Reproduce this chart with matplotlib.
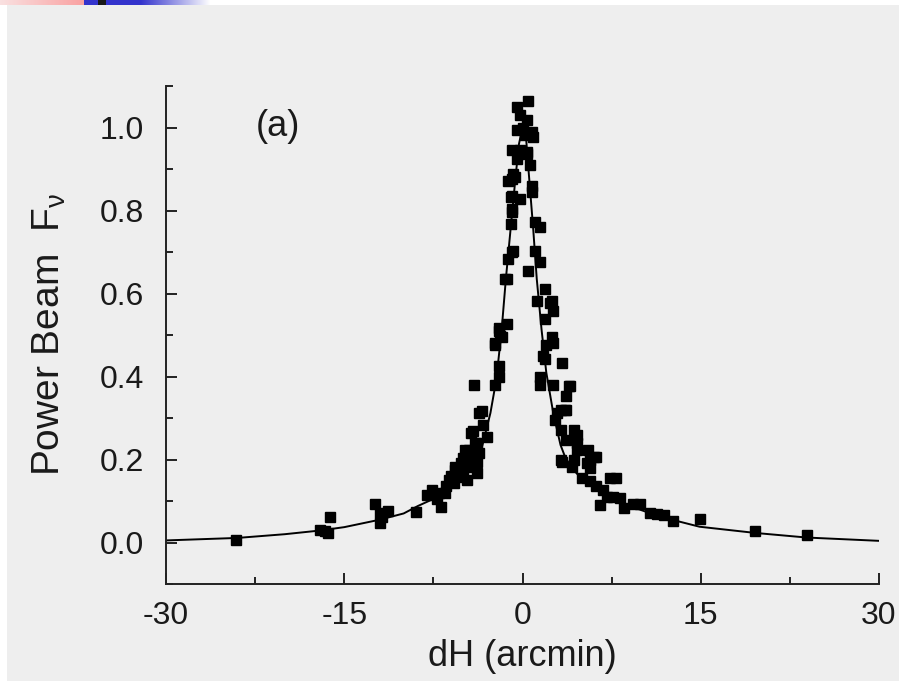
import numpy as np
import matplotlib.pyplot as plt

plt.rcParams['font.family'] = ['Liberation Sans', 'DejaVu Sans']
plt.rcParams['mathtext.fontset'] = 'custom'
plt.rcParams['mathtext.rm'] = 'Liberation Sans'
plt.rcParams['mathtext.it'] = 'Liberation Sans'

# measured beam points (dH in arcmin, normalised power)
dh_pts = [-24.1, -17.0, -16.4, -16.2, -16.6,
          -12.4, -12.0, -11.3, -12.0, -11.8, -9.0,
          -7.6, -7.2, -6.9, -6.4, -5.8, -5.7, -5.3, -4.7, -4.7, -4.3, -4.0, -3.8, -4.3, -3.8, -3.7,
          -5.7, -5.0, -4.5, -4.2, -3.3, -3.4, -3.0, -3.8, -3.7, -3.8, -4.8, -5.2, -6.0, -6.5, -7.0, -8.0,
          -6.2, -5.5, -5.0,
          -4.1, -2.3, -2.0, -2.0, -2.3, -1.7, -2.0, -1.9, -1.3, -2.0, -2.3,
          -1.3, -1.5, -1.2, -0.9, -0.8, -1.0, -0.9, -0.9, -1.0, -0.2, -0.9, -1.2, -0.6, -0.8, -0.9,
          -0.5, -0.9, -0.2, -0.5, -0.2, -0.5,
          0.5, 0.35, 0.07, 0.77, 0.9, 0.2, 0.35, 0.6, 0.77, 0.77, 0.35,
          1.05, 1.5, 1.05, 1.5, 0.5, 1.9, 1.2, 2.3, 2.6, 1.9, 2.5, 2.5,
          2.0, 2.6, 1.9, 3.3, 1.5, 2.6, 4.0, 3.7, 3.2, 3.7, 2.7, 3.2, 4.3, 3.7, 4.6, 3.2, 4.3, 5.4,
          1.5, 1.7, 2.9, 3.9,
          4.6, 5.5, 5.7, 6.2, 4.2, 3.3, 4.6, 3.6,
          5.0, 5.7, 6.2, 6.8, 7.1, 6.5, 7.6, 7.4, 7.9, 8.2, 8.5, 9.3, 9.9, 10.7, 11.3, 11.9, 12.7,
          14.9, 19.6, 23.9, 6.0, 5.7]
fv_pts = [0.005, 0.031, 0.023, 0.061, 0.028,
          0.092, 0.070, 0.076, 0.046, 0.062, 0.074,
          0.127, 0.106, 0.086, 0.135, 0.143, 0.175, 0.159, 0.183, 0.151, 0.264, 0.240, 0.215, 0.203, 0.167, 0.312,
          0.183, 0.203, 0.223, 0.268, 0.284, 0.316, 0.255, 0.240, 0.215, 0.195, 0.223, 0.191, 0.160, 0.120, 0.120, 0.115,
          0.150, 0.170, 0.170,
          0.380, 0.380, 0.400, 0.425, 0.477, 0.494, 0.510, 0.497, 0.526, 0.518, 0.481,
          0.635, 0.635, 0.683, 0.699, 0.703, 0.768, 0.796, 0.804, 0.832, 0.828, 0.836, 0.872, 0.881, 0.889, 0.877,
          0.925, 0.945, 0.945, 0.993, 1.030, 1.050,
          1.064, 1.018, 0.998, 0.990, 0.977, 0.981, 0.937, 0.909, 0.860, 0.844, 0.940,
          0.772, 0.760, 0.703, 0.675, 0.655, 0.610, 0.582, 0.578, 0.558, 0.538, 0.494, 0.582,
          0.477, 0.481, 0.441, 0.433, 0.380, 0.380, 0.376, 0.352, 0.320, 0.320, 0.296, 0.272, 0.272, 0.248, 0.240, 0.199, 0.199, 0.191,
          0.400, 0.449, 0.312, 0.376,
          0.223, 0.223, 0.199, 0.207, 0.183, 0.195, 0.260, 0.320,
          0.155, 0.147, 0.135, 0.127, 0.110, 0.090, 0.110, 0.155, 0.155, 0.107, 0.083, 0.093, 0.093, 0.070, 0.068, 0.066, 0.052,
          0.056, 0.027, 0.018, 0.207, 0.179]

# fitted beam curve
dh_fit = [-30, -24, -20, -17, -15, -12, -10, -8.8, -7.5, -6.5, -5, -4, -3.4, -2.7, -2.2, -1.75,
          -1.4, -1.0, -0.6, -0.3, 0, 0.3, 0.5, 0.9, 1.2, 1.6, 2.0, 2.6, 3.2, 3.6, 4.2, 4.8,
          6.5, 8.8, 11.6, 14.9, 19.6, 23.9, 30]
fv_fit = [0.005, 0.011, 0.020, 0.029, 0.037, 0.055, 0.070, 0.088, 0.105, 0.122, 0.155, 0.190,
          0.231, 0.312, 0.393, 0.514, 0.635, 0.756, 0.876, 0.960, 1.000, 0.975, 0.900, 0.756,
          0.635, 0.514, 0.410, 0.310, 0.235, 0.205, 0.178, 0.159, 0.122, 0.090, 0.062, 0.038,
          0.023, 0.012, 0.004]

x_ticks = [-30, -15, 0, 15, 30]
y_ticks = [0.0, 0.2, 0.4, 0.6, 0.8, 1.0]

W, H = 899, 681
fig = plt.figure(figsize=(W / 100, H / 100), dpi=100, facecolor='white')

# gray slide background and the coloured header strip
bg = fig.add_axes([7 / W, 0, 1 - 7 / W, 1 - 5 / H], zorder=-5)
bg.set_facecolor('#eeeeee')
bg.set_xticks([])
bg.set_yticks([])
for s in bg.spines.values():
    s.set_visible(False)

strip = fig.add_axes([0, 1 - 5 / H, 210 / W, 5 / H])
cols = np.ones((1, 210, 3))
for i in range(210):
    if i < 84:
        t = i / 84
        cols[0, i] = (0.98, 0.88 - 0.25 * t, 0.88 - 0.25 * t)
    elif i < 140:
        cols[0, i] = (0.2, 0.2, 0.8)
    else:
        t = (i - 140) / 70
        cols[0, i] = (0.2 + 0.8 * t, 0.2 + 0.8 * t, 0.8 + 0.2 * t)
cols[0, 98:106] = (0.1, 0.1, 0.1)
strip.imshow(cols, aspect='auto')
strip.axis('off')

ax = fig.add_axes([166 / W, 1 - 584 / H, 713 / W, 498 / H], zorder=2)
ax.set_facecolor('none')

ax.plot(dh_fit, fv_fit, color='black', lw=1.4, zorder=2)
ax.plot(dh_pts, fv_pts, linestyle='none', marker='s', ms=7, color='black', zorder=3)

ax.set_xlim(-30, 30)
ax.set_ylim(-0.1, 1.1)
ax.set_xticks(x_ticks)
ax.set_xticklabels([str(v) for v in x_ticks])
ax.set_yticks(y_ticks)
ax.set_yticklabels([f'{v:.1f}' for v in y_ticks])
ax.set_xticks([-22.5, -7.5, 7.5, 22.5], minor=True)
ax.set_yticks([-0.1, 0.1, 0.3, 0.5, 0.7, 0.9, 1.1], minor=True)

for s in ['top', 'right']:
    ax.spines[s].set_visible(False)
for s in ['left', 'bottom']:
    ax.spines[s].set_linewidth(1.4)
    ax.spines[s].set_color('#222222')

ax.tick_params(which='major', direction='in', length=8, width=1.4, labelsize=23,
               color='#222222', labelcolor='#1a1a1a')
ax.tick_params(which='minor', direction='in', length=5, width=1.4, color='#222222')
ax.tick_params(axis='y', which='major', pad=16)
ax.tick_params(axis='x', which='major', pad=12)

ax.set_xlabel('dH (arcmin)', fontsize=26, labelpad=6, color='#1a1a1a')
ax.set_ylabel(r'Power Beam  F$_{\nu}$', fontsize=28, color='#1a1a1a')
ax.yaxis.set_label_coords(-0.138, 0.5)
ax.text(0.157, 0.918, '(a)', transform=ax.transAxes, fontsize=26, ha='center', va='center',
        color='#1a1a1a')

fig.savefig('out.png', dpi=100, facecolor=fig.get_facecolor())
